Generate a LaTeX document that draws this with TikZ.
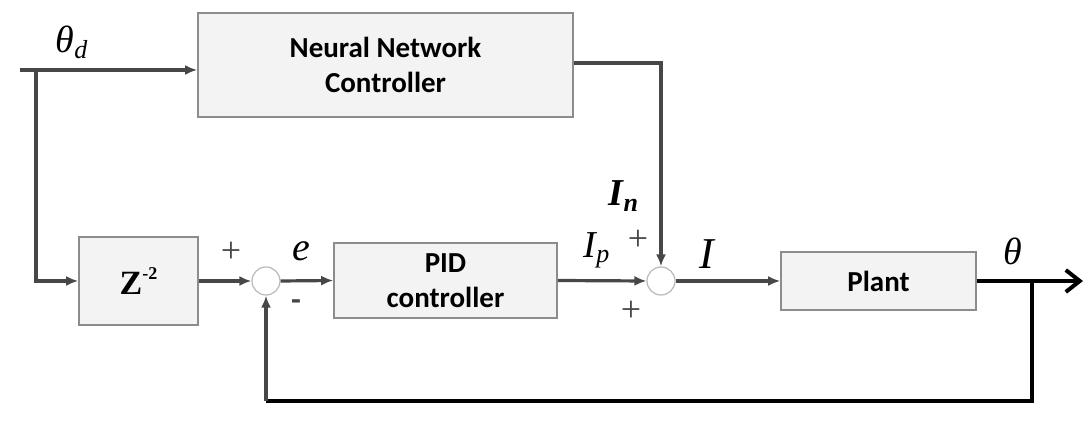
\documentclass[tikz,border=0pt]{standalone}
\usepackage{fontspec}
\setmainfont{Carlito}
\newfontfamily\tms{Liberation Serif}
\usetikzlibrary{arrows.meta}
\definecolor{ln}{HTML}{474747}
\definecolor{bxfill}{HTML}{F3F3F3}
\definecolor{bxdraw}{HTML}{8C8C8C}
\tikzset{
  blk/.style={draw=bxdraw, line width=0.8pt, fill=bxfill, align=center, font=\fontsize{14.5}{17.5}\selectfont\bfseries, inner sep=0pt},
  sumc/.style={circle, draw=gray!55, line width=0.6pt, fill=white, minimum size=14pt, inner sep=0pt},
  sig/.style={draw=ln, line width=1.6pt, -{Latex[length=6pt,width=5pt]}},
  wire/.style={draw=ln, line width=1.6pt},
  outw/.style={draw=black, line width=2pt},
  lbl/.style={font=\tms\itshape\fontsize{19}{20}\selectfont, inner sep=0pt},
  pm/.style={font=\tms\fontsize{18}{20}\selectfont, inner sep=0pt, text=ln}
}
\begin{document}
\begin{tikzpicture}[x=0.5pt,y=-0.5pt]
\useasboundingbox (0,0) rectangle (1087,421);
\fill[white] (0,0) rectangle (1087,421);
% blocks
\node[blk, minimum width=187.5pt, minimum height=52pt] (nn) at (385.5,65) {Neural Network\\Controller};
\node[blk, minimum width=59.5pt, minimum height=44pt, font=\tms\bfseries\fontsize{17}{20}\selectfont] (z) at (138.5,281) {Z\raisebox{1.0ex}{\fontsize{9}{10}\selectfont -2}};
\node[blk, minimum width=111.5pt, minimum height=37.5pt] (pid) at (445.5,280.5) {PID\\controller};
\node[blk, minimum width=97.5pt, minimum height=29pt] (plant) at (878.5,281) {Plant};
\node[sumc] (s1) at (266,281) {};
\node[sumc] (s2) at (661,281) {};
% coordinates
\coordinate (in) at (20,70);
\coordinate (br) at (36,70);
\coordinate (out) at (1083,281);
\coordinate (fb) at (1032,281);
\coordinate (fbr) at (1032,401);
\coordinate (fbl) at (266,401);
% connectors
\draw[sig] (in) -- (in -| nn.west);
\draw[sig] (br) |- (z.west);
\draw[sig] (z.east) -- (s1.west);
\draw[sig] (s1.east) -- (pid.west);
\draw[sig] (pid.east) -- (s2.west);
\draw[sig] (s2.east) -- (plant.west);
\draw[sig] ([yshift=1pt]nn.east) -| (s2.north);
\draw[outw, -{Straight Barb[length=7pt,width=11pt,line width=2pt]}] (plant.east) -- (out);
\draw[outw] (fb) -- (fbr) -- (fbl);
\draw[sig] (fbl) -- (s1.south);
% labels
\node[lbl] (ltd) at (72,42) {θ\textsubscript{\fontsize{13}{14}\selectfont d}};
\node[pm] (p1) at (231,252) {+};
\node[lbl, font=\tms\itshape\fontsize{20}{22}\selectfont] (le) at (301,251) {e};
\node[pm, font=\bfseries\fontsize{16}{16}\selectfont] (m1) at (296,305) {-};
\node[lbl] (lip) at (597,250) {I\textsubscript{\fontsize{13}{13}\selectfont p}};
\node[pm] (p2) at (638,240) {+};
\node[lbl, font=\tms\itshape\bfseries\fontsize{19}{20}\selectfont] (lin) at (624,196) {I\textsubscript{\fontsize{13}{13}\selectfont n}};
\node[pm] (p3) at (631,311) {+};
\node[lbl, font=\tms\itshape\fontsize{22}{24}\selectfont] (li) at (707,254) {I};
\node[lbl] (lth) at (1013,251) {θ};
\end{tikzpicture}
\end{document}
